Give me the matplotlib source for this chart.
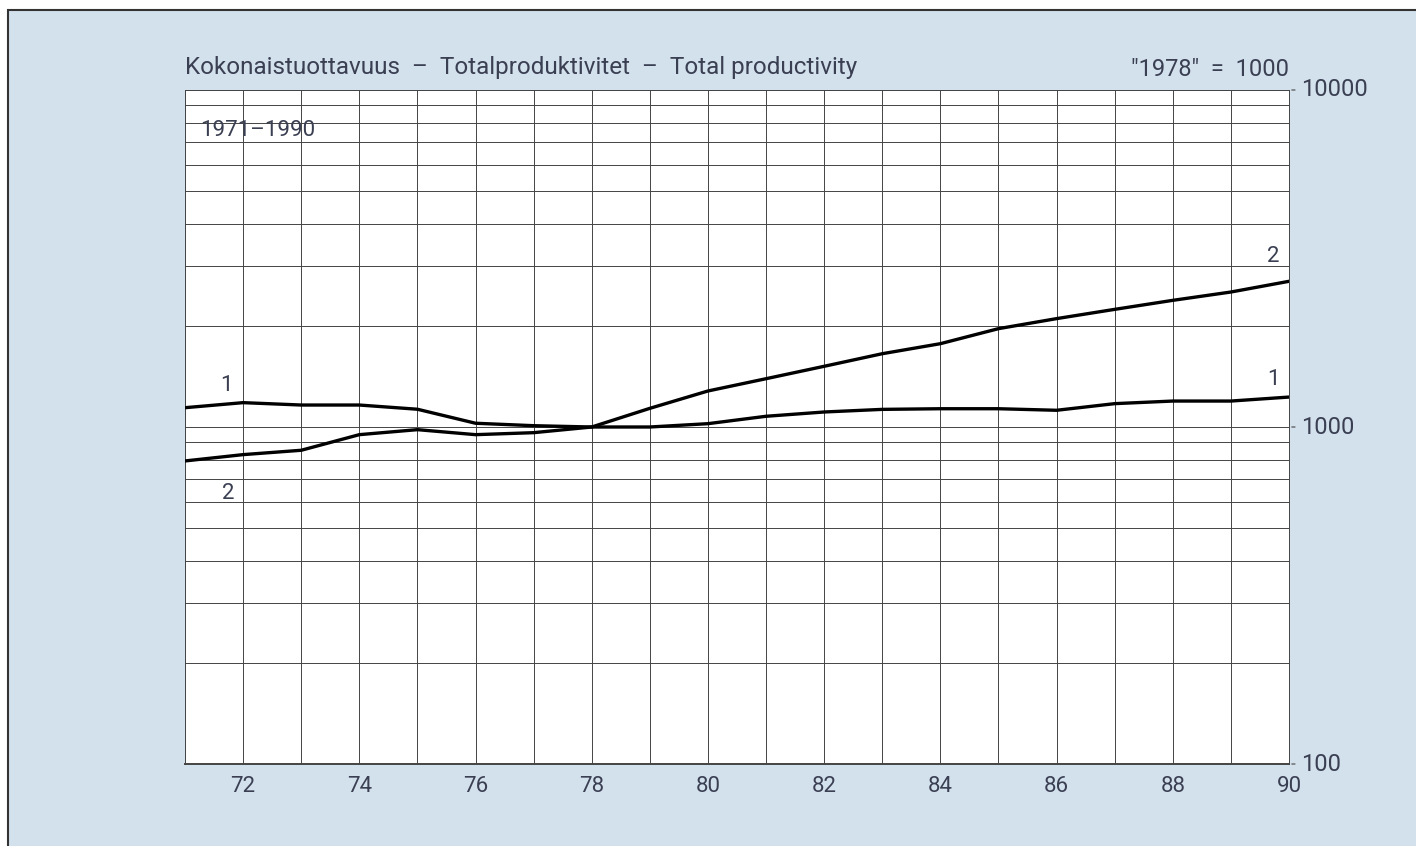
import matplotlib
matplotlib.use('Agg')
import matplotlib.pyplot as plt
from matplotlib.patches import Rectangle
from matplotlib.ticker import FixedLocator

plt.rcParams['font.family'] = ['Roboto', 'DejaVu Sans']

years = list(range(1971, 1991))
# 1 = Kokonaistuottavuus series 1, 2 = series 2 ("1978" = 1000)
series1 = [1141, 1181, 1162, 1162, 1129, 1026, 1009, 1000, 1000, 1023,
           1076, 1108, 1128, 1133, 1133, 1121, 1173, 1194, 1194, 1227]
series2 = [793, 828, 853, 949, 982, 949, 962, 1000, 1136, 1279,
           1391, 1514, 1650, 1767, 1958, 2097, 2234, 2376, 2515, 2706]

xtick_years = [1972, 1974, 1976, 1978, 1980, 1982, 1984, 1986, 1988, 1990]
xtick_labels = ['72', '74', '76', '78', '80', '82', '84', '86', '88', '90']
ytick_vals = [100, 1000, 10000]
ytick_labels = ['100', '1000', '10000']

title = 'Kokonaistuottavuus  –  Totalproduktivitet  –  Total productivity'
base_note = '"1978"  =  1000'
period = '1971–1990'

txt_color = '#3a3f52'
bg = '#d3e1ed'
fw = 'normal'

fig = plt.figure(figsize=(14.16, 8.46), dpi=100)
fig.patch.set_facecolor('white')
panel = Rectangle((8 / 1416, -0.02), 1.0, 1.02 - 10 / 846, transform=fig.transFigure,
                  facecolor=bg, edgecolor='#333333', linewidth=1.5, zorder=-10)
fig.add_artist(panel)

ax = fig.add_axes([185 / 1416, 1 - 764 / 846, (1289 - 185) / 1416, (764 - 90) / 846])
ax.set_facecolor('white')
ax.set_yscale('log')
ax.set_xlim(1971, 1990)
ax.set_ylim(100, 10000)

# grid: every year and every log minor step
ax.xaxis.set_major_locator(FixedLocator(years))
minor_y = [m * 10 ** e for e in (2, 3) for m in range(1, 10)] + [10000]
ax.yaxis.set_major_locator(FixedLocator(minor_y))
ax.yaxis.set_minor_locator(FixedLocator([]))
ax.grid(True, which='major', color='#444444', linewidth=0.7)
ax.tick_params(which='both', length=0, labelbottom=False, labelleft=False)

for s in ax.spines.values():
    s.set_color('#444444')
    s.set_linewidth(0.7)
ax.spines['bottom'].set_linewidth(1.4)

ax.plot(years, series1, color='black', linewidth=2.4, zorder=3)
ax.plot(years, series2, color='black', linewidth=2.4, zorder=3)

# labels outside the axes
for yr, lab in zip(xtick_years, xtick_labels):
    ax.text(yr, -0.034, lab, transform=ax.get_xaxis_transform(), ha='center', va='center',
            fontsize=16, color=txt_color, fontweight=fw)
for v, lab in zip(ytick_vals, ytick_labels):
    ax.annotate('', xy=(1.0, v), xycoords=('axes fraction', 'data'),
                xytext=(1.008, v), textcoords=('axes fraction', 'data'),
                arrowprops=dict(arrowstyle='-', color='#444444', lw=0.8))
    ax.text(1.011, v, lab, transform=ax.get_yaxis_transform(), ha='left', va='center',
            fontsize=17, color=txt_color, fontweight=fw)

ax.text(0.0, 1.033, title, transform=ax.transAxes, ha='left', va='center',
        fontsize=17.5, color=txt_color, fontweight=fw)
ax.text(1.0, 1.030, base_note, transform=ax.transAxes, ha='right', va='center',
        fontsize=17, color=txt_color, fontweight=fw)
ax.text(1971.26, 7600, period, ha='left', va='center', fontsize=16, color=txt_color,
        fontweight=fw)

ax.text(1971.72, 1332, '1', ha='center', va='center', fontsize=16, color=txt_color, fontweight=fw)
ax.text(1971.75, 633, '2', ha='center', va='center', fontsize=16, color=txt_color, fontweight=fw)
ax.text(1989.73, 3216, '2', ha='center', va='center', fontsize=16, color=txt_color, fontweight=fw)
ax.text(1989.73, 1379, '1', ha='center', va='center', fontsize=16, color=txt_color, fontweight=fw)

fig.savefig('out.png', dpi=100)
